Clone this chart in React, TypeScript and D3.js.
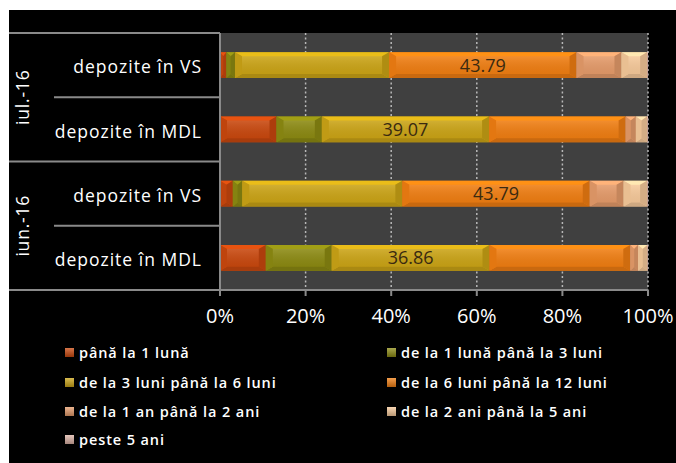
import React from "react";
import * as d3 from "d3";

const groups = ["iul.-16", "iun.-16"];
const categories = ["depozite în VS", "depozite în MDL"];
const rowKeys = ["iul.-16|VS", "iul.-16|MDL", "iun.-16|VS", "iun.-16|MDL"];

const seriesNames = [
  "până la 1 lună",
  "de la 1 lună până la 3 luni",
  "de la 3 luni până la 6 luni",
  "de la 6 luni până la 12 luni",
  "de la 1 an până la 2 ani",
  "de la 2 ani până la 5 ani",
  "peste 5 ani",
];
const seriesColors = ["#C9480E", "#8C8A12", "#CBA416", "#F07E12", "#E59B6A", "#F6C99A", "#DDB3A6"];

// values (%) per row, in series order
const julVS = [1.5, 2.0, 36.0, 43.79, 10.5, 6.0, 0.2];
const julMDL = [13.2, 10.6, 39.07, 31.9, 2.4, 2.6, 0.23];
const junVS = [3.0, 2.2, 37.4, 43.79, 7.9, 5.5, 0.21];
const junMDL = [10.7, 15.4, 36.86, 32.9, 1.8, 2.2, 0.14];
const rowValues = [julVS, julMDL, junVS, junMDL];
const labelSeries = [3, 2, 3, 2];

const xTicks = [0, 20, 40, 60, 80, 100];

const W = 676, H = 463;
const plot = { left: 220, right: 648, top: 33, bottom: 290 };

function Segment({ x0, x1, y0, y1, color }) {
  const w = x1 - x0, h = y1 - y0;
  if (w <= 0.2) return null;
  const b = Math.min(7, w / 2);
  const bv = Math.min(4, h / 2);
  const c = d3.color(color);
  const light = c.brighter(0.4).formatHex();
  const dark = c.darker(0.5).formatHex();
  const mid = c.darker(0.15).formatHex();
  const ix0 = x0 + b, ix1 = x1 - b, iy0 = y0 + bv, iy1 = y1 - bv;
  return (
    <g>
      <rect x={x0} y={y0} width={w} height={h} fill={color} />
      <polygon points={`${x0},${y0} ${x1},${y0} ${ix1},${iy0} ${ix0},${iy0}`} fill={light} />
      <polygon points={`${x0},${y1} ${x1},${y1} ${ix1},${iy1} ${ix0},${iy1}`} fill={dark} />
      <polygon points={`${x0},${y0} ${ix0},${iy0} ${ix0},${iy1} ${x0},${y1}`} fill={mid} />
      <polygon points={`${x1},${y0} ${ix1},${iy0} ${ix1},${iy1} ${x1},${y1}`} fill={dark} opacity={0.85} />
      <rect x={ix0} y={iy0} width={Math.max(0, ix1 - ix0)} height={Math.max(0, iy1 - iy0)} fill="url(#faceGrad)" />
    </g>
  );
}

export default function App() {
  const x = d3.scaleLinear().domain([0, 100]).range([plot.left, plot.right]);
  const y = d3.scaleBand().domain(rowKeys).range([plot.top, plot.bottom]).paddingInner(0.6).paddingOuter(0.3);
  const yOuter = d3.scaleBand().domain(rowKeys).range([plot.top, plot.bottom]);

  const legendRows = [353, 383, 412, 440];
  const legendCols = [65, 387];

  return (
    <svg width={W} height={H} style={{ position: "fixed", left: 0, top: 0, background: "#fff" }}
      fontFamily="'Open Sans', sans-serif">
      <defs>
        <linearGradient id="faceGrad" x1="0" y1="0" x2="0" y2="1">
          <stop offset="0" stopColor="#fff" stopOpacity={0.12} />
          <stop offset="1" stopColor="#000" stopOpacity={0.06} />
        </linearGradient>
        <linearGradient id="legGrad" x1="0" y1="0" x2="0" y2="1">
          <stop offset="0" stopColor="#fff" stopOpacity={0.25} />
          <stop offset="1" stopColor="#000" stopOpacity={0.25} />
        </linearGradient>
      </defs>
      <rect x={9} y={10} width={W - 9} height={H - 10} fill="#000" />
      <rect x={plot.left} y={plot.top} width={plot.right - plot.left} height={plot.bottom - plot.top} fill="#404040" />
      {xTicks.filter(t => t > 0).map(t => (
        <line key={t} x1={x(t)} x2={x(t)} y1={plot.top} y2={plot.bottom} stroke="#b8b8b8" strokeWidth={1.5} strokeDasharray="2,2.5" />
      ))}
      {/* bars */}
      {rowKeys.map((k, i) => {
        const vals = rowValues[i];
        const total = d3.sum(vals);
        let cum = 0;
        const y0 = y(k), y1 = y(k) + y.bandwidth();
        const segs = vals.map((v, s) => {
          const a = (cum / total) * 100;
          cum += v;
          const bEnd = (cum / total) * 100;
          return { s, a, b: bEnd, v };
        });
        const ls = segs[labelSeries[i]];
        return (
          <g key={k}>
            {segs.map(sg => (
              <Segment key={sg.s} x0={x(sg.a)} x1={x(sg.b)} y0={y0} y1={y1} color={seriesColors[sg.s]} />
            ))}
            <text x={(x(ls.a) + x(ls.b)) / 2} y={(y0 + y1) / 2} dy="0.36em" textAnchor="middle" fontSize={18} fill="#3a2a10">
              {ls.v.toFixed(2)}
            </text>
          </g>
        );
      })}
      {/* axis */}
      <line x1={plot.left} x2={plot.left} y1={plot.top} y2={plot.bottom} stroke="#8a8a8a" strokeWidth={2} />
      <line x1={9} x2={plot.left} y1={plot.top} y2={plot.top} stroke="#8a8a8a" strokeWidth={2} />
      <line x1={9} x2={plot.right} y1={plot.bottom} y2={plot.bottom} stroke="#8a8a8a" strokeWidth={2} />
      {xTicks.map(t => (
        <g key={t}>
          <line x1={x(t)} x2={x(t)} y1={plot.bottom} y2={plot.bottom + 6} stroke="#8a8a8a" strokeWidth={2} />
          <text x={x(t)} y={323} textAnchor="middle" fontSize={20} fill="#fff">{t}%</text>
        </g>
      ))}
      {/* category table */}
      {rowKeys.map((k, i) => {
        const top = yOuter(k), bot = top + yOuter.bandwidth();
        const cat = categories[i % 2];
        return (
          <g key={k}>
            <text x={202} y={(top + bot) / 2 + 2} dy="0.36em" textAnchor="end" fontSize={17.5} letterSpacing={1} fill="#fff">{cat}</text>
            {i % 2 === 0 ? (
              <line x1={54} x2={plot.left} y1={bot} y2={bot} stroke="#8a8a8a" strokeWidth={2} />
            ) : i < rowKeys.length - 1 ? (
              <line x1={9} x2={plot.left} y1={bot} y2={bot} stroke="#8a8a8a" strokeWidth={2} />
            ) : null}
          </g>
        );
      })}
      {groups.map((g, gi) => {
        const top = yOuter(rowKeys[gi * 2]);
        const bot = yOuter(rowKeys[gi * 2 + 1]) + yOuter.bandwidth();
        const cy = (top + bot) / 2;
        return (
          <text key={g} transform={`translate(29,${cy}) rotate(-90)`} textAnchor="middle" fontSize={17.5} letterSpacing={0.8} fill="#fff">{g}</text>
        );
      })}
      {/* legend */}
      {seriesNames.map((n, i) => {
        const col = i % 2, row = Math.floor(i / 2);
        const lx = legendCols[col], ly = legendRows[row];
        return (
          <g key={n}>
            <rect x={lx} y={ly - 5} width={9} height={9} fill={seriesColors[i]} />
            <rect x={lx} y={ly - 5} width={9} height={9} fill="url(#legGrad)" />
            <text x={lx + 14} y={ly} dy="0.36em" fontSize={14.5} fontWeight={600} letterSpacing={0.9} fill="#fff">{n}</text>
          </g>
        );
      })}
    </svg>
  );
}
